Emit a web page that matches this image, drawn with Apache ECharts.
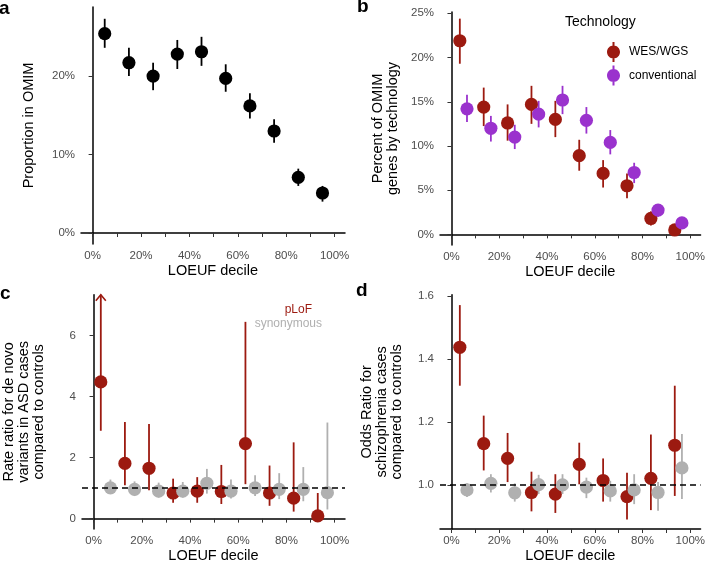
<!DOCTYPE html>
<html>
<head>
<meta charset="utf-8">
<script src="https://cdn.jsdelivr.net/npm/echarts@6/dist/echarts.min.js"></script>
<style>
  html, body { margin: 0; padding: 0; background: #fff; }
  #main { width: 708px; height: 564px; }
</style>
</head>
<body>
<div id="main"></div>
<script>
// LOEUF decile midpoints (%)
var decileMid = [5, 15, 25, 35, 45, 55, 65, 75, 85, 95];
var xTicks = [0, 10, 20, 30, 40, 50, 60, 70, 80, 90, 100];
var xLabels = [0, 20, 40, 60, 80, 100];

// a: proportion in OMIM (%)
var omimPct = [25.4, 21.7, 20.0, 22.8, 23.1, 19.7, 16.2, 13.0, 7.1, 5.1];
var omimLo = [23.6, 20.0, 18.2, 20.9, 21.3, 18.0, 14.6, 11.5, 6.0, 4.0];
var omimHi = [27.3, 23.6, 21.7, 24.6, 25.0, 21.5, 17.8, 14.5, 8.2, 6.0];
var omimTicks = [0, 10, 20];

// b: percent of OMIM genes by technology (%)
var wesPct = [21.9, 14.4, 12.6, 14.7, 13.0, 8.9, 6.9, 5.5, 1.8, 0.5];
var wesLo = [19.3, 12.25, 10.6, 12.5, 11.0, 7.2, 5.3, 4.1, 1.0, 0.3];
var wesHi = [24.4, 16.6, 14.7, 16.8, 15.1, 10.7, 8.4, 6.9, 2.6, 0.8];
var convPct = [14.2, 12.0, 11.0, 13.6, 15.2, 12.9, 10.4, 7.0, 2.75, 1.3];
var convLo = [12.7, 10.5, 9.65, 12.1, 13.6, 11.4, 9.05, 5.8, 2.0, 1.05];
var convHi = [15.8, 13.4, 12.4, 15.1, 16.8, 14.4, 11.8, 8.1, 3.4, 1.55];
var techTicks = [0, 5, 10, 15, 20, 25];

// c: rate ratio, de novo variants in ASD (null = upper bound off the chart)
var asdLof = [4.48, 1.81, 1.65, 0.84, 0.90, 0.89, 2.46, 0.84, 0.67, 0.09];
var asdLofLo = [2.88, 1.09, 0.93, 0.52, 0.52, 0.48, 1.13, 0.42, 0.23, 0.0];
var asdLofHi = [null, 3.17, 3.10, 1.31, 1.36, 1.76, 6.45, 1.74, 2.50, 0.84];
var asdSyn = [1.01, 0.96, 0.90, 0.90, 1.16, 0.90, 1.01, 0.96, 0.96, 0.85];
var asdSynLo = [0.82, 0.74, 0.69, 0.69, 0.82, 0.66, 0.74, 0.64, 0.57, 0.30];
var asdSynHi = [1.28, 1.22, 1.18, 1.20, 1.63, 1.28, 1.42, 1.49, 1.69, 3.15];
var asdTicks = [0, 2, 4, 6];

// d: odds ratio, schizophrenia
var sczLof = [1.437, 1.131, 1.084, 0.976, 0.971, 1.065, 1.014, 0.963, 1.021, 1.126];
var sczLofLo = [1.315, 1.046, 1.009, 0.916, 0.911, 1.002, 0.947, 0.89, 0.92, 0.965];
var sczLofHi = [1.571, 1.22, 1.165, 1.042, 1.034, 1.134, 1.084, 1.039, 1.16, 1.315];
var sczSyn = [0.984, 1.005, 0.975, 1.001, 1.0, 0.993, 0.981, 0.984, 0.976, 1.054];
var sczSynLo = [0.962, 0.976, 0.947, 0.971, 0.971, 0.958, 0.947, 0.939, 0.918, 0.955];
var sczSynHi = [1.005, 1.034, 1.005, 1.032, 1.034, 1.023, 1.013, 1.034, 1.009, 1.162];
var sczTicks = [1.0, 1.2, 1.4, 1.6];

var RED = '#9c1a10';
var PURPLE = '#9a32cd';
var GREY = '#b0b0b0';
var FONT = 'Liberation Sans, Arial, sans-serif';
var X_MIN = -4.8, X_MAX = 104.3;
var C_MAX = 7.34;
// legend key: a dot on a vertical bar, like ggplot's pointrange key
var KEY_ICON = 'path://M5.5,0H7.5V20H5.5Z M0,10C0,6.41 2.91,3.5 6.5,3.5C10.09,3.5 13,6.41 13,10C13,13.59 10.09,16.5 6.5,16.5C2.91,16.5 0,13.59 0,10Z';

function rows(vals, lo, hi, offset, cap) {
  return vals.map(function (v, i) {
    var top = hi[i] == null ? cap : hi[i];
    return [decileMid[i] + offset, v, lo[i], top, hi[i] == null ? 1 : 0];
  });
}

function pointRange(params, api) {
  var color = api.visual('color');
  var c = api.coord([api.value(0), api.value(1)]);
  var pLo = api.coord([api.value(0), api.value(2)]);
  var pHi = api.coord([api.value(0), api.value(3)]);
  var kids = [{
    type: 'line',
    shape: { x1: pLo[0], y1: pLo[1], x2: pHi[0], y2: pHi[1] },
    style: { stroke: color, lineWidth: 1.8 }
  }];
  if (api.value(4) === 1) {
    kids.push({
      type: 'polyline',
      shape: { points: [[pHi[0] - 5, pHi[1] + 6], [pHi[0], pHi[1]], [pHi[0] + 5, pHi[1] + 6]] },
      style: { stroke: color, lineWidth: 1.6, fill: null }
    });
  }
  kids.push({ type: 'circle', shape: { cx: c[0], cy: c[1], r: 6.6 }, style: { fill: color } });
  return { type: 'group', children: kids };
}

function series(name, idx, color, data) {
  return {
    name: name, type: 'custom', xAxisIndex: idx, yAxisIndex: idx,
    itemStyle: { color: color }, renderItem: pointRange,
    encode: { x: 0, y: [1, 2, 3] }, data: data, silent: true
  };
}

function refLine(idx) {
  return {
    type: 'line', xAxisIndex: idx, yAxisIndex: idx, symbol: 'none', silent: true, z: 5,
    lineStyle: { color: '#000', width: 1.5, type: [6, 4] },
    data: [[X_MIN, 1], [X_MAX, 1]]
  };
}

function xAxis(idx) {
  return {
    type: 'value', gridIndex: idx, min: X_MIN, max: X_MAX,
    name: 'LOEUF decile', nameLocation: 'middle', nameGap: 19,
    nameTextStyle: { color: '#000', fontSize: 14.5, fontFamily: FONT },
    axisLine: { lineStyle: { color: '#000', width: 1.5 } },
    axisTick: { customValues: xTicks, length: 4, lineStyle: { color: '#333', width: 1 } },
    axisLabel: { customValues: xLabels, formatter: '{value}%', color: '#4d4d4d', fontSize: 11.5, fontFamily: FONT, margin: 6 },
    splitLine: { show: false }
  };
}

function yAxis(idx, min, max, ticks, name, gap, fmt) {
  return {
    type: 'value', gridIndex: idx, min: min, max: max,
    name: name, nameLocation: 'middle', nameGap: gap,
    nameTextStyle: { color: '#000', fontSize: 14.5, fontFamily: FONT, lineHeight: 15 },
    axisLine: { show: true, lineStyle: { color: '#000', width: 1.5 } },
    axisTick: { customValues: ticks, length: 4, lineStyle: { color: '#333', width: 1 } },
    axisLabel: { customValues: ticks, formatter: fmt, color: '#4d4d4d', fontSize: 11.5, fontFamily: FONT, margin: 6 },
    splitLine: { show: false }
  };
}

function pct(v) { return Math.round(v) + '%'; }
function num(v) { return Math.round(v) + ''; }
function dec(v) { return v.toFixed(1); }

function letter(t, x, y) {
  return { type: 'text', left: x, top: y, style: { text: t, fontSize: 19, fontWeight: 'bold', fontFamily: FONT, fill: '#000' } };
}

var chart = echarts.init(document.getElementById('main'));
chart.setOption({
  animation: false,
  backgroundColor: '#fff',
  grid: [
    { left: 81, top: 7, width: 264, height: 237 },
    { left: 440, top: 12, width: 264, height: 233 },
    { left: 81, top: 294.7, width: 264, height: 236.6 },
    { left: 440, top: 294.7, width: 264, height: 235.6 }
  ],
  xAxis: [xAxis(0), xAxis(1), xAxis(2), xAxis(3)],
  yAxis: [
    yAxis(0, -1.4, 28.8, omimTicks, 'Proportion in OMIM', 45, pct),
    yAxis(1, -1.2, 25.15, techTicks, 'Percent of OMIM\ngenes by technology', 40, pct),
    yAxis(2, -0.34, C_MAX, asdTicks, 'Rate ratio for de novo\nvariants in ASD cases\ncompared to controls', 36, num),
    yAxis(3, 0.86, 1.604, sczTicks, 'Odds Ratio for\nschizophrenia cases\ncompared to controls', 36, dec)
  ],
  legend: {
    left: 602, top: 37, orient: 'vertical', itemGap: 3.5, itemWidth: 13, itemHeight: 20,
    textStyle: { color: '#000', fontSize: 12, fontFamily: FONT, padding: [0, 0, 0, 4] },
    selectedMode: false,
    data: [
      { name: 'WES/WGS', icon: KEY_ICON },
      { name: 'conventional', icon: KEY_ICON }
    ]
  },
  graphic: [
    letter('a', -1, -1), letter('b', 357, -3), letter('c', 0, 284), letter('d', 356, 281),
    { type: 'text', left: 565, top: 15, style: { text: 'Technology', fontSize: 14, fontFamily: FONT, fill: '#000' } },
    { type: 'text', right: 396, top: 304, style: { text: 'pLoF', fontSize: 12, fontFamily: FONT, fill: RED, align: 'right' } },
    { type: 'text', right: 386, top: 318, style: { text: 'synonymous', fontSize: 12, fontFamily: FONT, fill: GREY, align: 'right' } }
  ],
  series: [
    series('OMIM', 0, '#000', rows(omimPct, omimLo, omimHi, 0)),
    series('WES/WGS', 1, RED, rows(wesPct, wesLo, wesHi, -1.5)),
    series('conventional', 1, PURPLE, rows(convPct, convLo, convHi, 1.5)),
    series('pLoF', 2, RED, rows(asdLof, asdLofLo, asdLofHi, -2, C_MAX)),
    series('synonymous', 2, GREY, rows(asdSyn, asdSynLo, asdSynHi, 2)),
    refLine(2),
    series('pLoF', 3, RED, rows(sczLof, sczLofLo, sczLofHi, -1.5)),
    series('synonymous', 3, GREY, rows(sczSyn, sczSynLo, sczSynHi, 1.5)),
    refLine(3)
  ]
});
</script>
</body>
</html>
